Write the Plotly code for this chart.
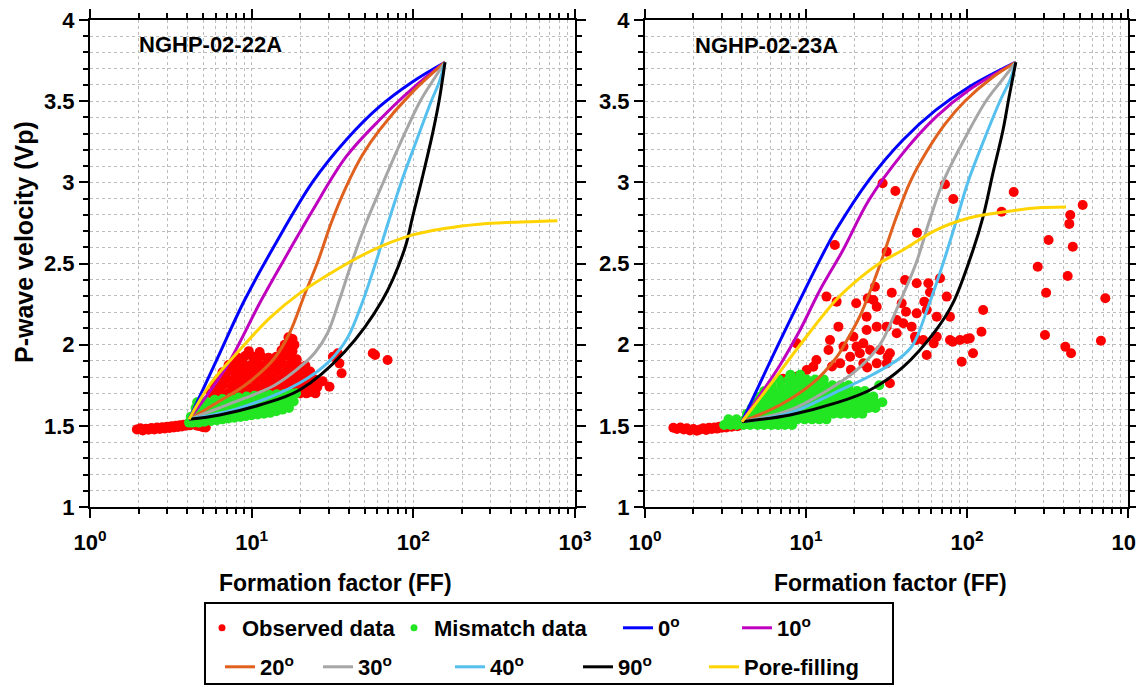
import plotly.graph_objects as go

W, H = 1136, 687
FONT = "Liberation Sans"

# ---------------- NGHP-02-22A : model curves (FF, Vp) ----------------
ff22_0 = [4.1, 6.1, 9.05, 13.9, 23.9, 38.4, 61.7, 99.0, 157]
vp22_0 = [1.54, 1.91, 2.275, 2.614, 3.004, 3.261, 3.466, 3.620, 3.74]
ff22_10 = [4.1, 6.98, 11.48, 17.17, 23.9, 38.4, 61.7, 99.0, 157]
vp22_10 = [1.54, 1.864, 2.275, 2.583, 2.83, 3.158, 3.384, 3.579, 3.74]
ff22_20 = [4.1, 5.91, 9.31, 13.87, 17.17, 21.2, 25.6, 31.2, 38.4, 48.4, 61.7, 99.0, 157]
vp22_20 = [1.54, 1.635, 1.758, 1.918, 2.072, 2.306, 2.509, 2.756, 2.972, 3.168, 3.322, 3.557, 3.74]
ff22_30 = [4.1, 7.32, 13.87, 20.6, 24.8, 29.5, 34.9, 41.4, 51.3, 65.3, 84.3, 110.4, 132.9, 157]
vp22_30 = [1.54, 1.635, 1.75, 1.875, 1.955, 2.072, 2.275, 2.50, 2.756, 3.002, 3.255, 3.501, 3.630, 3.74]
ff22_40 = [4.1, 8.43, 19.78, 30.3, 39.1, 47.7, 58.3, 70.1, 84.3, 104.4, 129.2, 144.6, 157]
vp22_40 = [1.54, 1.610, 1.764, 1.899, 2.041, 2.244, 2.50, 2.756, 3.002, 3.255, 3.501, 3.618, 3.74]
ff22_90 = [4.1, 6.34, 11.2, 19.78, 37.5, 64.4, 87.9, 99.0, 114, 131.6, 144.6, 157]
vp22_90 = [1.54, 1.567, 1.628, 1.721, 1.955, 2.275, 2.583, 2.788, 3.035, 3.302, 3.507, 3.74]
ff22_pf = [4.1, 5.5, 8.43, 12.91, 19.78, 34.9, 56.1, 99.0, 159, 255, 410, 778]
vp22_pf = [1.54, 1.752, 1.967, 2.164, 2.316, 2.472, 2.583, 2.676, 2.717, 2.742, 2.754, 2.764]

# ---------------- NGHP-02-22A : measurements ----------------
obs22_ff = [
    # low-FF tail
    1.95, 2.05, 2.12, 2.22, 2.3, 2.4, 2.5, 2.6, 2.7, 2.8, 2.9, 3.0, 3.1, 3.2, 3.3,
    3.4, 3.5, 3.6, 3.7, 3.8, 3.9, 4.0, 4.15, 4.3, 4.45, 4.6, 4.8, 5.0, 5.2,
    # main cloud
    5.6, 6.3, 7.1, 8.0, 9.0, 10.1, 11.3, 12.7, 14.2, 15.9, 17.8, 19.9, 22.3, 24.8,
    5.9, 6.6, 7.5, 8.4, 9.4, 10.6, 11.9, 13.3, 14.9, 16.7, 18.7, 20.9, 23.4, 25.5,
    6.2, 7.0, 7.9, 8.8, 9.9, 11.1, 12.4, 13.9, 15.6, 17.5, 19.6, 22.0, 24.5,
    6.6, 7.4, 8.3, 9.3, 10.4, 11.6, 13.0, 14.6, 16.4, 18.3, 20.5, 23.0,
    7.2, 8.0, 8.9, 9.9, 11.0, 12.3, 13.8, 15.4, 17.2, 19.2, 21.5,
    8.2, 9.1, 10.2, 11.4, 12.7, 14.2, 15.9, 17.6, 19.0,
    9.6, 11.2, 15.3, 16.6, 17.9,
    16.0, 17.2, 18.4,
    16.9, 17.9,
    # scattered points
    31.8, 34.1, 34.9, 36.0, 30.3, 27.5, 23.3, 21.8, 56.1, 58.0, 69.3,
]
obs22_vp = [
    1.478, 1.485, 1.472, 1.482, 1.476, 1.486, 1.478, 1.49, 1.48, 1.492, 1.484, 1.495, 1.487, 1.498, 1.49,
    1.50, 1.493, 1.503, 1.496, 1.506, 1.50, 1.51, 1.503, 1.515, 1.508, 1.50, 1.497, 1.492, 1.49,
    1.70, 1.71, 1.70, 1.705, 1.70, 1.71, 1.70, 1.705, 1.71, 1.70, 1.705, 1.70, 1.705, 1.70,
    1.74, 1.75, 1.745, 1.75, 1.74, 1.745, 1.75, 1.74, 1.745, 1.75, 1.74, 1.745, 1.75, 1.74,
    1.785, 1.79, 1.795, 1.785, 1.79, 1.795, 1.785, 1.79, 1.795, 1.785, 1.79, 1.795, 1.785,
    1.83, 1.84, 1.835, 1.83, 1.84, 1.835, 1.83, 1.84, 1.835, 1.83, 1.84, 1.835,
    1.875, 1.885, 1.88, 1.875, 1.885, 1.88, 1.875, 1.885, 1.88, 1.875, 1.87,
    1.92, 1.93, 1.925, 1.93, 1.92, 1.925, 1.93, 1.92, 1.91,
    1.96, 1.955, 1.965, 1.97, 1.96,
    2.0, 2.01, 2.0,
    2.045, 2.035,
    1.926, 1.947, 1.885, 1.824, 1.741, 1.775, 1.71, 1.70, 1.947, 1.936, 1.906,
]
mis22_ff = [
    4.1, 4.2,
    4.3, 4.7, 5.1, 5.6, 6.1, 6.6, 7.2, 7.8, 8.5, 9.2, 10.0, 10.9, 11.9, 13.0, 14.2, 15.5, 17.0,
    4.4, 4.9, 5.4, 6.0, 6.7, 7.4, 8.2, 9.1, 10.1, 11.2, 12.4, 13.7, 15.1, 16.6, 18.2,
    4.5, 5.0, 5.6, 6.3, 7.0, 7.8, 8.7, 9.7, 10.8, 12.0, 13.3, 14.7, 16.2, 17.8,
    4.6, 5.2, 5.9, 6.6, 7.4, 8.3, 9.3, 10.4, 11.6, 12.9, 14.3, 15.8, 17.4, 18.8,
]
mis22_vp = [
    1.52, 1.555,
    1.52, 1.52, 1.525, 1.53, 1.535, 1.54, 1.545, 1.55, 1.555, 1.56, 1.565, 1.57, 1.575, 1.58, 1.59, 1.60, 1.61,
    1.565, 1.57, 1.575, 1.58, 1.585, 1.59, 1.595, 1.60, 1.605, 1.61, 1.615, 1.62, 1.63, 1.64, 1.65,
    1.61, 1.615, 1.62, 1.625, 1.63, 1.635, 1.64, 1.645, 1.65, 1.655, 1.66, 1.665, 1.67, 1.68,
    1.645, 1.65, 1.66, 1.665, 1.67, 1.675, 1.68, 1.685, 1.69, 1.69, 1.695, 1.695, 1.70, 1.70,
]

# ---------------- NGHP-02-23A : model curves (FF, Vp) ----------------
ff23_0 = [4.0, 7.19, 13.12, 15.36, 24.6, 40.0, 64.2, 102.9, 201]
vp23_0 = [1.525, 2.060, 2.583, 2.706, 3.014, 3.261, 3.446, 3.587, 3.74]
ff23_10 = [4.0, 5.18, 6.90, 9.18, 12.22, 16.98, 24.6, 40.0, 64.2, 102.9, 201]
vp23_10 = [1.525, 1.690, 1.875, 2.090, 2.337, 2.583, 2.891, 3.180, 3.403, 3.569, 3.74]
ff23_20 = [4.0, 6.90, 11.05, 15.36, 17.85, 21.8, 29.0, 35.5, 44.3, 56.4, 73.0, 97.2, 145, 201]
vp23_20 = [1.525, 1.628, 1.764, 1.918, 2.023, 2.183, 2.50, 2.756, 3.002, 3.193, 3.359, 3.501, 3.649, 3.74]
ff23_30 = [4.0, 7.96, 15.36, 21.65, 28.8, 37.3, 48.2, 58.1, 71.0, 95.8, 131.2, 165, 201]
vp23_30 = [1.525, 1.598, 1.752, 1.862, 2.0, 2.238, 2.50, 2.756, 3.002, 3.261, 3.501, 3.630, 3.74]
ff23_40 = [4.0, 7.96, 15.36, 24.98, 38.4, 46.2, 57.3, 71.0, 85.4, 101.4, 127.5, 160.3, 185, 201]
vp23_40 = [1.525, 1.579, 1.708, 1.807, 1.918, 2.0, 2.232, 2.50, 2.756, 3.002, 3.261, 3.501, 3.630, 3.74]
ff23_90 = [4.0, 7.96, 15.36, 24.98, 40.0, 64.2, 81.9, 109, 125.7, 145, 167.4, 182.5, 201]
vp23_90 = [1.525, 1.567, 1.641, 1.721, 1.862, 2.090, 2.257, 2.583, 2.786, 3.058, 3.322, 3.526, 3.74]
ff23_pf = [4.0, 5.98, 9.18, 15.36, 21.65, 28.8, 40.0, 64.2, 102.9, 167.4, 268, 412]
vp23_pf = [1.525, 1.752, 1.998, 2.275, 2.411, 2.503, 2.583, 2.706, 2.780, 2.817, 2.842, 2.848]

# ---------------- NGHP-02-23A : measurements ----------------
obs23_ff = [
    # low-FF tail
    1.5, 1.58, 1.66, 1.74, 1.82, 1.9, 2.0, 2.1, 2.2, 2.3, 2.4, 2.5, 2.6, 2.7, 2.8,
    2.9, 3.0, 3.1, 3.2, 3.3, 3.45, 3.6, 3.75, 3.9,
    # main cloud
    26.8, 34.1, 26.2, 27.5, 41.2, 48.7, 57.5, 68, 74.8, 39.3, 48.7, 56.2, 64.9, 78.4, 126,
    13.4, 15.5, 15.9, 23.8, 23.8, 27.5, 31.7, 36.6, 40.2, 45.3, 47.5, 36.6, 53.5, 64.9, 78.4,
    90.5, 104, 123, 109, 92.7, 56.2, 8.75, 14.1, 13.8, 17.1, 19.7, 20.6, 22.7, 18.8, 21.6,
    25.0, 28.8, 33.2, 31.7, 27.5, 22.7, 16.3, 11.1, 11.6, 10.1, 8.75, 33.2,
    58.9, 54.3, 41.8, 24.2, 20.5, 32.2, 100, 81.5, 62.1, 48.2, 19.0, 24.0, 14.5, 7.2,
    # upper points
    15.1, 31.7, 48.9, 29.9, 35.9, 73, 82.2, 195, 164,
    # high-FF points
    275, 454, 422, 310, 723, 305, 679, 408, 443, 523, 438, 432, 321,
]
obs23_vp = [
    1.488, 1.48, 1.49, 1.478, 1.485, 1.472, 1.48, 1.47, 1.478, 1.485, 1.475, 1.488, 1.48, 1.49, 1.483,
    1.495, 1.488, 1.498, 1.49, 1.50, 1.495, 1.505, 1.498, 1.508,
    2.357, 2.320, 2.275, 2.234, 2.398, 2.378, 2.378, 2.409, 2.296, 2.255, 2.193, 2.214, 2.172, 2.172, 2.214,
    2.296, 2.265, 2.111, 2.172, 2.090, 2.111, 2.111, 2.152, 2.132, 2.111, 2.049, 2.070, 2.029, 2.049, 2.029,
    2.029, 2.039, 2.080, 1.947, 1.895, 1.936, 2.008, 2.029, 1.967, 1.988, 2.049, 1.988, 2.008, 1.926, 1.947,
    1.967, 1.967, 1.947, 1.885, 1.885, 1.885, 1.885, 1.864, 1.906, 1.844, 1.803, 1.762,
    2.323, 2.265, 2.203, 2.286, 2.255, 1.926, 2.035, 2.018, 2.008, 2.029, 1.845, 1.86, 1.865, 1.79,
    2.614, 2.573, 2.690, 2.994, 2.947, 2.988, 2.897, 2.940, 2.819,
    2.480, 2.603, 2.423, 2.320, 2.286, 2.060, 2.024, 1.987, 1.947, 2.860, 2.799, 2.744, 2.645,
]
mis23_ff = [
    3.1, 3.4, 3.7, 4.1, 4.5, 5.0, 5.5, 6.1, 6.7, 7.4, 8.2,
    3.3, 3.7, 4.2, 4.7, 5.2, 5.8, 6.4, 7.1, 7.9, 8.8, 9.8, 10.9, 12.1, 13.4,
    4.3, 4.9, 5.5, 6.2, 7.0, 7.8, 8.7, 9.7, 10.8, 12.0, 13.3, 14.8, 16.4, 18.2, 20.2, 22.4,
    4.6, 5.2, 5.9, 6.6, 7.4, 8.3, 9.3, 10.4, 11.6, 12.9, 14.4, 16.0, 17.8, 19.8, 22.0, 24.5, 27.0,
    4.9, 5.5, 6.2, 7.0, 7.9, 8.9, 10.0, 11.2, 12.5, 14.0, 15.6, 17.4, 19.4, 21.6, 24.1, 26.8, 29.8,
    5.2, 5.9, 6.7, 7.6, 8.6, 9.7, 10.9, 12.2, 13.6, 15.2, 17.0, 19.0, 21.2, 23.6, 26.2,
    5.5, 6.3, 7.2, 8.2, 9.3, 10.5, 11.8, 13.2, 14.8, 16.6, 18.6, 20.8, 23.2,
    6.1, 7.0, 8.0, 9.1, 10.3, 11.6, 13.0, 14.6, 16.4, 18.4, 28.5,
    6.8, 7.8, 8.9, 10.1, 11.4, 12.9,
    8.0, 9.2,
]
mis23_vp = (
    [1.505] * 11 + [1.54] * 14 + [1.575] * 16 + [1.61] * 17 + [1.645] * 17
    + [1.68] * 15 + [1.715] * 13 + [1.75] * 11 + [1.785] * 6 + [1.815] * 2
)

# ---------------- styling ----------------
C_RED, C_GREEN = "#FF0000", "#22E622"
curve_styles = [
    ("0<sup>o</sup>", "#0000FF", "legend3"),
    ("10<sup>o</sup>", "#BF00BF", "legend4"),
    ("20<sup>o</sup>", "#E0601E", "legend5"),
    ("30<sup>o</sup>", "#A6A6A6", "legend6"),
    ("40<sup>o</sup>", "#55C0EE", "legend7"),
    ("90<sup>o</sup>", "#000000", "legend8"),
    ("Pore-filling", "#FFD400", "legend9"),
]
curves22 = [(ff22_0, vp22_0), (ff22_10, vp22_10), (ff22_20, vp22_20), (ff22_30, vp22_30),
            (ff22_40, vp22_40), (ff22_90, vp22_90), (ff22_pf, vp22_pf)]
curves23 = [(ff23_0, vp23_0), (ff23_10, vp23_10), (ff23_20, vp23_20), (ff23_30, vp23_30),
            (ff23_40, vp23_40), (ff23_90, vp23_90), (ff23_pf, vp23_pf)]

fig = go.Figure()

for xa, ya, obs, mis, curves, first in [
    ("x", "y", (obs22_ff, obs22_vp), (mis22_ff, mis22_vp), curves22, True),
    ("x2", "y2", (obs23_ff, obs23_vp), (mis23_ff, mis23_vp), curves23, False),
]:
    fig.add_trace(go.Scatter(x=obs[0], y=obs[1], mode="markers", xaxis=xa, yaxis=ya,
                             marker=dict(color=C_RED, size=10, line=dict(width=0)),
                             showlegend=False, hoverinfo="skip"))
    fig.add_trace(go.Scatter(x=mis[0], y=mis[1], mode="markers", xaxis=xa, yaxis=ya,
                             marker=dict(color=C_GREEN, size=10, line=dict(width=0)),
                             showlegend=False, hoverinfo="skip"))
    for (ff, vp), (name, color, leg) in zip(curves, curve_styles):
        fig.add_trace(go.Scatter(x=ff, y=vp, mode="lines", xaxis=xa, yaxis=ya, name=name,
                                 line=dict(color=color, width=3, shape="spline", smoothing=1.0),
                                 showlegend=first, legend=leg, hoverinfo="skip"))

# legend-only marker entries
fig.add_trace(go.Scatter(x=[None], y=[None], mode="markers", name="Observed data",
                         marker=dict(color=C_RED, size=7), legend="legend"))
fig.add_trace(go.Scatter(x=[None], y=[None], mode="markers", name="Mismatch data",
                         marker=dict(color=C_GREEN, size=7), legend="legend2"))

tick_font = dict(family=FONT, size=22, color="black", weight="bold")
grid = dict(showgrid=True, gridcolor="#BDBDBD", gridwidth=1, griddash="dot")
minor_x = [m * 10 ** d for d in range(3) for m in range(2, 10)]

def xaxis_def(dom):
    return dict(type="log", domain=dom, range=[0, 3], tickvals=[1, 10, 100, 1000],
                ticktext=["10<sup>0</sup>", "10<sup>1</sup>", "10<sup>2</sup>", "10<sup>3</sup>"],
                ticks="outside", ticklen=9, tickwidth=2, tickcolor="black",
                showline=True, linewidth=2, linecolor="black", mirror="ticks",
                tickfont=tick_font, ticklabelstandoff=6, zeroline=False, automargin=False,
                ticklabeloverflow="allow",
                minor=dict(tickvals=minor_x, ticks="outside", ticklen=5, tickwidth=1.5,
                           tickcolor="black", **grid),
                **grid)

def yaxis_def():
    return dict(domain=[1 - 507 / H, 1 - 20 / H], range=[1, 4], tick0=1, dtick=0.5,
                ticks="outside", ticklen=9, tickwidth=2, tickcolor="black",
                showline=True, linewidth=2, linecolor="black", mirror="ticks",
                tickfont=tick_font, zeroline=False, automargin=False,
                ticklabeloverflow="allow",
                minor=dict(dtick=0.1, ticks="outside", ticklen=5, tickwidth=1.5,
                           tickcolor="black", **grid),
                **grid)

y2 = yaxis_def()
y2["anchor"] = "x2"
x2 = xaxis_def([645 / W, 1128 / W])
x2["anchor"] = "y2"

legend_font = dict(family=FONT, size=22, color="black", weight="bold")
legend_pos = {
    "legend": (202, 628), "legend2": (394, 628), "legend3": (618, 628), "legend4": (737, 628),
    "legend5": (220, 667), "legend6": (318, 667), "legend7": (450, 667), "legend8": (578, 667),
    "legend9": (704, 667),
}
legends = {k: dict(x=px / W, y=1 - py / H, xanchor="left", yanchor="middle",
                   font=legend_font, bgcolor="rgba(0,0,0,0)", borderwidth=0,
                   itemwidth=30, orientation="h", itemclick=False, itemdoubleclick=False)
           for k, (px, py) in legend_pos.items()}

ann_font = dict(family=FONT, size=22, color="black", weight="bold")
xtitle_font = dict(family=FONT, size=23, color="black", weight="bold")
annotations = [
    dict(text="NGHP-02-22A", x=137 / W, y=1 - 44 / H, xanchor="left", yanchor="middle",
         font=ann_font),
    dict(text="NGHP-02-23A", x=693 / W, y=1 - 46 / H, xanchor="left", yanchor="middle",
         font=ann_font),
    dict(text="Formation factor (FF)", x=335 / W, y=1 - 583 / H, xanchor="center",
         yanchor="middle", font=xtitle_font),
    dict(text="Formation factor (FF)", x=890 / W, y=1 - 583 / H, xanchor="center",
         yanchor="middle", font=xtitle_font),
    dict(text="P-wave velocity (Vp)", x=24 / W, y=1 - 242 / H, xanchor="center",
         yanchor="middle", textangle=-90, font=dict(family=FONT, size=25, color="black",
                                                     weight="bold")),
]
for a in annotations:
    a.update(xref="paper", yref="paper", showarrow=False)

fig.update_layout(
    width=W, height=H, margin=dict(l=0, r=0, t=0, b=0, autoexpand=False),
    paper_bgcolor="white", plot_bgcolor="white",
    font=dict(family=FONT, color="black"),
    xaxis=xaxis_def([90 / W, 575 / W]), yaxis=yaxis_def(),
    xaxis2=x2, yaxis2=y2,
    annotations=annotations,
    shapes=[dict(type="rect", xref="paper", yref="paper", x0=205 / W, x1=893 / W,
                 y0=1 - 684 / H, y1=1 - 603 / H, line=dict(color="black", width=2))],
    **legends,
)

fig.write_html("out.html")
